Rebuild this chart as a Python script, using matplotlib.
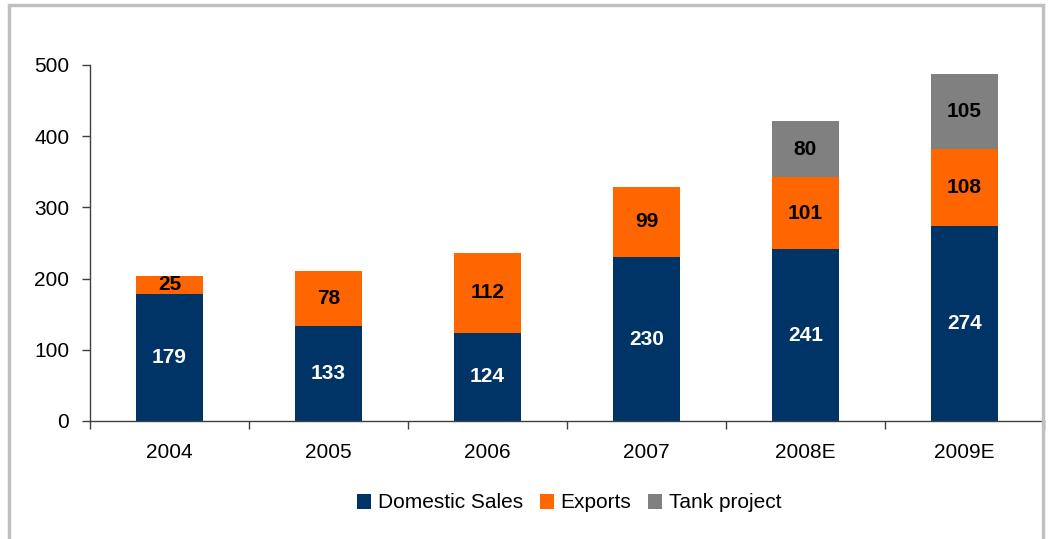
import numpy as np
import matplotlib.pyplot as plt
from matplotlib.patches import Rectangle

plt.rcParams['font.family'] = ['Liberation Sans', 'DejaVu Sans']

years = ['2004', '2005', '2006', '2007', '2008E', '2009E']
domestic = [179, 133, 124, 230, 241, 274]
exports = [25, 78, 112, 99, 101, 108]
tank = [0, 0, 0, 0, 80, 105]

navy = '#003366'
orange = '#FF6600'
grey = '#808080'

fig = plt.figure(figsize=(10.5, 5.39), dpi=100)
ax = fig.add_axes([90/1050, 1-421/539, (1044-90)/1050, (421-65)/539])

x = np.arange(len(years))
w = 0.42
dom = np.array(domestic)
exp_ = np.array(exports)
tk = np.array(tank)

b1 = ax.bar(x, dom, w, color=navy, label='Domestic Sales')
b2 = ax.bar(x, exp_, w, bottom=dom, color=orange, label='Exports')
b3 = ax.bar(x, tk, w, bottom=dom+exp_, color=grey, label='Tank project')

for i in range(len(x)):
    ax.text(x[i], dom[i]/2, str(dom[i]), ha='center', va='center',
            color='white', fontsize=15, fontweight='bold')
    ax.text(x[i], dom[i] + exp_[i]/2, str(exp_[i]), ha='center', va='center',
            color='black', fontsize=15, fontweight='bold')
    if tk[i] > 0:
        ax.text(x[i], dom[i] + exp_[i] + tk[i]/2, str(tk[i]), ha='center',
                va='center', color='black', fontsize=15, fontweight='bold')

ax.set_xlim(-0.5, len(years) - 0.5)
ax.set_ylim(0, 500)
ax.set_yticks([0, 100, 200, 300, 400, 500])

ax.set_xticks(x)
ax.set_xticklabels(years)
ax.set_xticks(np.arange(-0.5, len(years), 1), minor=True)
ax.tick_params(axis='x', which='major', length=0, pad=16, labelsize=15)
ax.tick_params(axis='x', which='minor', length=6, width=1, color='#404040', direction='out')
ax.tick_params(axis='y', length=6, width=1, color='#404040', direction='out',
               pad=9, labelsize=15)

for s in ['top', 'right']:
    ax.spines[s].set_visible(False)
for s in ['left', 'bottom']:
    ax.spines[s].set_color('#404040')
    ax.spines[s].set_linewidth(1)

leg = fig.legend(handles=[b1, b2, b3], loc='center', bbox_to_anchor=(569/1050, 1-503/539),
                 ncol=3, frameon=False, fontsize=15, handlelength=0.7, handleheight=0.7,
                 handletextpad=0.3, columnspacing=0.8)

# grey frame around the chart
fig.patches.append(Rectangle((9/1050, -0.02), (1043-9)/1050, 1.02 - 5/539,
                             transform=fig.transFigure, fill=False,
                             edgecolor='#C0C0C0', linewidth=2.5))

fig.savefig('out.png', dpi=100)
